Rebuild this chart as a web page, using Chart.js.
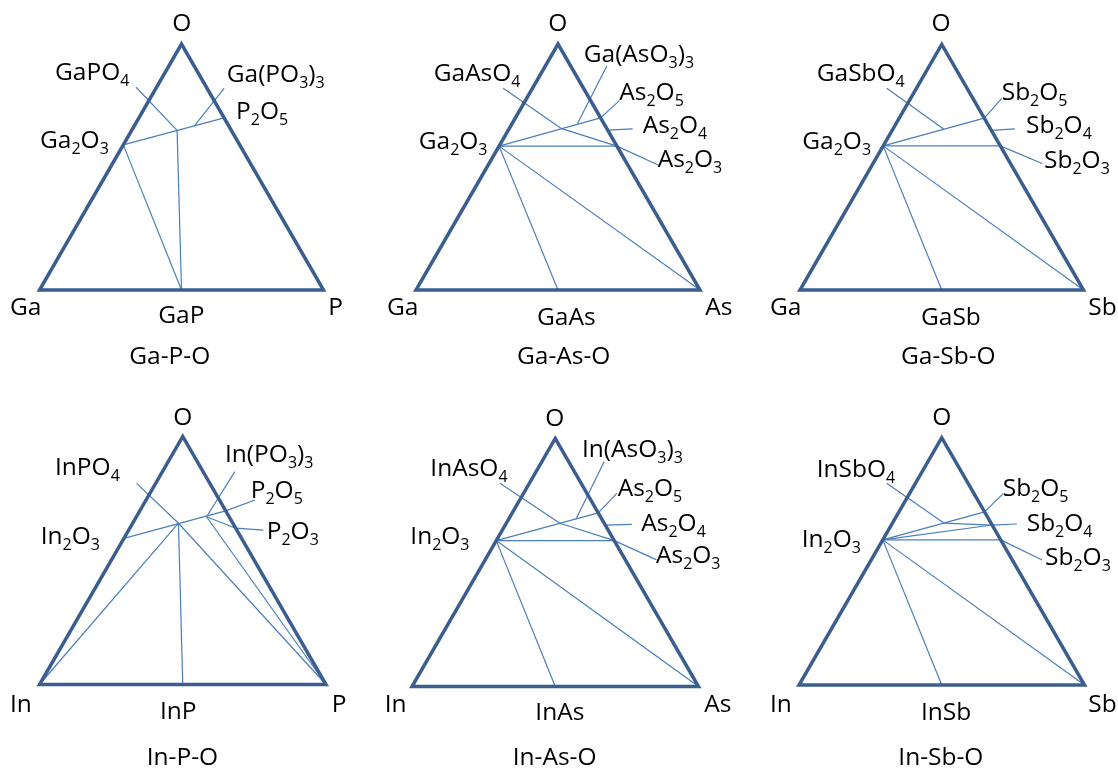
<!DOCTYPE html>
<html>
<head>
<meta charset="utf-8">
<title>Ternary phase diagrams: III–V–O systems</title>
<script src="https://cdn.jsdelivr.net/npm/chart.js@4.4.1/dist/chart.umd.min.js"></script>
<style>
  html, body { margin: 0; padding: 0; background: #ffffff; }
  #sheet { position: relative; width: 1118px; height: 769px; overflow: hidden; background: #ffffff; }
  .panel { position: absolute; }
</style>
</head>
<body>
<div id="sheet"></div>
<script>
// Phase compositions in atom fractions: anion = fraction of group-V element,
// oxygen = fraction of O; the metal fraction is whatever remains.

// ---- Ga–P–O ----
const gaPO_phases = ['Ga', 'P', 'O', 'Ga2O3', 'P2O5', 'GaP', 'GaPO4', 'Ga(PO3)3'];
const gaPO_anion  = [0, 1, 0, 0,    0.30, 0.50, 0.160, 0.212];
const gaPO_oxygen = [0, 0, 1, 0.59, 0.70, 0,    0.649, 0.668];
const gaPO_ties   = [['Ga2O3', 'P2O5'], ['Ga2O3', 'GaP'], ['GaP', 'GaPO4']];

// ---- Ga–As–O ----
const gaAsO_phases = ['Ga', 'As', 'O', 'Ga2O3', 'As2O5', 'As2O4', 'As2O3', 'GaAs', 'GaAsO4', 'Ga(AsO3)3'];
const gaAsO_anion  = [0, 1, 0, 0,     0.30, 0.35, 0.415, 0.50, 0.185, 0.230];
const gaAsO_oxygen = [0, 0, 1, 0.585, 0.70, 0.65, 0.585, 0,    0.656, 0.677];
const gaAsO_ties   = [['Ga2O3', 'As2O5'], ['Ga2O3', 'As2O3'], ['Ga2O3', 'As'], ['Ga2O3', 'GaAs'], ['GaAsO4', 'As2O3']];

// ---- Ga–Sb–O ----
const gaSbO_phases = ['Ga', 'Sb', 'O', 'Ga2O3', 'Sb2O5', 'Sb2O4', 'Sb2O3', 'GaSb', 'GaSbO4'];
const gaSbO_anion  = [0, 1, 0, 0,     0.30, 0.35, 0.413, 0.50, 0.180];
const gaSbO_oxygen = [0, 0, 1, 0.587, 0.70, 0.65, 0.587, 0,    0.655];
const gaSbO_ties   = [['Ga2O3', 'Sb2O5'], ['Ga2O3', 'Sb2O3'], ['Ga2O3', 'Sb'], ['Ga2O3', 'GaSb']];

// ---- In–P–O ----
const inPO_phases = ['In', 'P', 'O', 'In2O3', 'P2O5', 'P2O3', 'InP', 'InPO4', 'In(PO3)3'];
const inPO_anion  = [0, 1, 0, 0,     0.30, 0.37, 0.50, 0.160, 0.245];
const inPO_oxygen = [0, 0, 1, 0.589, 0.70, 0.63, 0,    0.650, 0.676];
const inPO_ties   = [['In2O3', 'P2O5'], ['InPO4', 'In'], ['InPO4', 'InP'], ['InPO4', 'P'],
                     ['In(PO3)3', 'P'], ['In(PO3)3', 'P2O3']];

// ---- In–As–O ----
const inAsO_phases = ['In', 'As', 'O', 'In2O3', 'As2O5', 'As2O4', 'As2O3', 'InAs', 'InAsO4', 'In(AsO3)3'];
const inAsO_anion  = [0, 1, 0, 0,     0.30, 0.35, 0.412, 0.50, 0.187, 0.235];
const inAsO_oxygen = [0, 0, 1, 0.588, 0.70, 0.65, 0.588, 0,    0.658, 0.676];
const inAsO_ties   = [['In2O3', 'As2O5'], ['In2O3', 'As2O3'], ['In2O3', 'As'], ['In2O3', 'InAs'], ['InAsO4', 'As2O3']];

// ---- In–Sb–O ----
const inSbO_phases = ['In', 'Sb', 'O', 'In2O3', 'Sb2O5', 'Sb2O4', 'Sb2O3', 'InSb', 'InSbO4'];
const inSbO_anion  = [0, 1, 0, 0,     0.30, 0.353, 0.413, 0.50, 0.180];
const inSbO_oxygen = [0, 0, 1, 0.587, 0.70, 0.647, 0.587, 0,    0.655];
const inSbO_ties   = [['In2O3', 'Sb2O5'], ['In2O3', 'Sb2O4'], ['In2O3', 'Sb2O3'], ['In2O3', 'Sb'],
                      ['In2O3', 'InSb'], ['InSbO4', 'Sb2O4']];

// Label leader lines: phase it points at, and where the leader ends (plot units, base = 1).
const gaPO_leaders  = [['GaPO4', 0.340, 0.714], ['Ga(PO3)3', 0.650, 0.710]];
const gaAsO_leaders = [['GaAsO4', 0.307, 0.710], ['Ga(AsO3)3', 0.672, 0.789], ['As2O5', 0.716, 0.667],
                       ['As2O4', 0.763, 0.567], ['As2O3', 0.853, 0.440]];
const gaSbO_leaders = [['GaSbO4', 0.306, 0.712], ['Sb2O5', 0.712, 0.676], ['Sb2O4', 0.758, 0.568],
                       ['Sb2O3', 0.854, 0.446]];
const inPO_leaders  = [['InPO4', 0.339, 0.702], ['In(PO3)3', 0.682, 0.743], ['P2O5', 0.752, 0.644],
                       ['P2O3', 0.781, 0.539]];
const inAsO_leaders = [['InAsO4', 0.307, 0.709], ['In(AsO3)3', 0.671, 0.785], ['As2O5', 0.715, 0.674],
                       ['As2O4', 0.767, 0.566], ['As2O3', 0.854, 0.442]];
const inSbO_leaders = [['InSbO4', 0.307, 0.707], ['Sb2O5', 0.716, 0.671], ['Sb2O4', 0.763, 0.564],
                       ['Sb2O3', 0.852, 0.438]];

// Text placement inside each panel: [text, x, baseline, align]. Digits print as subscripts.
const gaPO_text = [
  ['O', 181.7, 30.5, 'center'], ['GaPO4', 55, 80, 'left'], ['Ga(PO3)3', 226.7, 81.7, 'left'],
  ['P2O5', 236, 119.3, 'left'], ['Ga2O3', 40, 148.3, 'left'], ['Ga', 10, 315, 'left'],
  ['GaP', 158.3, 322.7, 'left'], ['P', 328.3, 315, 'left'], ['Ga-P-O', 129.3, 364, 'left']
];
const gaAsO_text = [
  ['O', 185.7, 30.7, 'center'], ['Ga(AsO3)3', 211.7, 61.7, 'left'], ['GaAsO4', 61.7, 81, 'left'],
  ['As2O5', 247.3, 100, 'left'], ['As2O4', 270.7, 133.3, 'left'], ['Ga2O3', 46.7, 149, 'left'],
  ['As2O3', 285.7, 166.7, 'left'], ['Ga', 15, 315, 'left'], ['GaAs', 165, 325, 'left'],
  ['As', 333.3, 315, 'left'], ['Ga-As-O', 145, 364, 'left']
];
const gaSbO_text = [
  ['O', 196, 30.7, 'center'], ['GaSbO4', 71.7, 81, 'left'], ['Sb2O5', 256.7, 100, 'left'],
  ['Sb2O4', 281, 133.3, 'left'], ['Ga2O3', 57.3, 149, 'left'], ['Sb2O3', 299, 168.3, 'left'],
  ['Ga', 25, 315, 'left'], ['GaSb', 176, 325, 'left'], ['Sb', 343.3, 315, 'left'],
  ['Ga-Sb-O', 156, 364, 'left']
];
const inPO_text = [
  ['O', 182.7, 39.5, 'center'], ['InPO4', 55, 90, 'left'], ['In(PO3)3', 225, 76.7, 'left'],
  ['P2O5', 250.7, 113.3, 'left'], ['In2O3', 40.7, 159.3, 'left'], ['P2O3', 266.7, 154, 'left'],
  ['In', 10, 326.7, 'left'], ['InP', 160, 334, 'left'], ['P', 331.7, 326.7, 'left'],
  ['In-P-O', 146.7, 380, 'left']
];
const inAsO_text = [
  ['O', 182.7, 40.7, 'center'], ['In(AsO3)3', 210, 71.7, 'left'], ['InAsO4', 58.3, 91, 'left'],
  ['As2O5', 245.7, 111, 'left'], ['As2O4', 269.3, 145.7, 'left'], ['In2O3', 38.3, 159.3, 'left'],
  ['As2O3', 284, 178.3, 'left'], ['In', 12.7, 326.7, 'left'], ['InAs', 163.3, 335, 'left'],
  ['As', 332.3, 326.7, 'left'], ['In-As-O', 140.7, 380, 'left']
];
const inSbO_text = [
  ['O', 196.7, 40, 'center'], ['InSbO4', 71.7, 91.7, 'left'], ['Sb2O5', 257.7, 110.7, 'left'],
  ['Sb2O4', 281.7, 145.7, 'left'], ['In2O3', 56.7, 162, 'left'], ['Sb2O3', 300, 180, 'left'],
  ['In', 25, 326.7, 'left'], ['InSb', 176, 335, 'left'], ['Sb', 343.3, 326.7, 'left'],
  ['In-Sb-O', 153.3, 380, 'left']
];

// Panel boxes on the sheet and the triangle frame inside each one
// (baseLeft / baseY: left end of the base line, side: base length in px).
const panels = [
  { phases: gaPO_phases,  anion: gaPO_anion,  oxygen: gaPO_oxygen,  ties: gaPO_ties,  leaders: gaPO_leaders,  text: gaPO_text,
    left: 0,   top: 0,   width: 372, height: 385, baseLeft: 39.5, baseY: 290,   side: 284 },
  { phases: gaAsO_phases, anion: gaAsO_anion, oxygen: gaAsO_oxygen, ties: gaAsO_ties, leaders: gaAsO_leaders, text: gaAsO_text,
    left: 372, top: 0,   width: 373, height: 385, baseLeft: 44,   baseY: 290,   side: 284 },
  { phases: gaSbO_phases, anion: gaSbO_anion, oxygen: gaSbO_oxygen, ties: gaSbO_ties, leaders: gaSbO_leaders, text: gaSbO_text,
    left: 745, top: 0,   width: 373, height: 385, baseLeft: 55,   baseY: 290,   side: 283.5 },
  { phases: inPO_phases,  anion: inPO_anion,  oxygen: inPO_oxygen,  ties: inPO_ties,  leaders: inPO_leaders,  text: inPO_text,
    left: 0,   top: 385, width: 372, height: 384, baseLeft: 39.5, baseY: 299.5, side: 286.5 },
  { phases: inAsO_phases, anion: inAsO_anion, oxygen: inAsO_oxygen, ties: inAsO_ties, leaders: inAsO_leaders, text: inAsO_text,
    left: 372, top: 385, width: 373, height: 384, baseLeft: 40,   baseY: 301.5, side: 286.5 },
  { phases: inSbO_phases, anion: inSbO_anion, oxygen: inSbO_oxygen, ties: inSbO_ties, leaders: inSbO_leaders, text: inSbO_text,
    left: 745, top: 385, width: 373, height: 384, baseLeft: 54,   baseY: 300,   side: 285.5 }
];

const FRAME_COLOR = '#3B5E8E';
const TIE_COLOR = '#4A7EBB';
const FRAME_WIDTH = 3.5;
const TIE_WIDTH = 1.2;
const MAIN_FONT = '24.5px "Open Sans"';
const SUB_FONT = '16px "Open Sans"';
const SUB_DROP = 6;

const H = Math.sqrt(3) / 2;
// composition -> plot coordinates (metal at origin, anion at (1,0), O at apex)
function toPlot(anion, oxygen) {
  return { x: anion + oxygen / 2, y: oxygen * H };
}

function splitFormula(text) {
  const parts = [];
  for (const ch of text) {
    const sub = /[0-9]/.test(ch);
    const last = parts[parts.length - 1];
    if (last && last.sub === sub) last.t += ch; else parts.push({ t: ch, sub });
  }
  return parts;
}

function makeLabelPlugin(items) {
  return {
    id: 'phaseLabels',
    afterDatasetsDraw(chart) {
      const ctx = chart.ctx;
      ctx.save();
      ctx.fillStyle = '#000000';
      ctx.textBaseline = 'alphabetic';
      ctx.textAlign = 'left';
      for (const [text, x, y, align] of items) {
        const parts = splitFormula(text);
        let total = 0;
        for (const p of parts) {
          ctx.font = p.sub ? SUB_FONT : MAIN_FONT;
          p.w = ctx.measureText(p.t).width;
          total += p.w;
        }
        let cx = align === 'center' ? x - total / 2 : x;
        for (const p of parts) {
          ctx.font = p.sub ? SUB_FONT : MAIN_FONT;
          ctx.fillText(p.t, cx, y + (p.sub ? SUB_DROP : 0));
          cx += p.w;
        }
      }
      ctx.restore();
    }
  };
}

function lineSet(points, color, width) {
  return {
    data: points,
    showLine: true,
    borderColor: color,
    borderWidth: width,
    pointRadius: 0,
    pointHoverRadius: 0,
    tension: 0,
    fill: false,
    borderJoinStyle: 'miter',
    borderCapStyle: 'butt',
    clip: false
  };
}

const sheet = document.getElementById('sheet');

panels.forEach(p => {
  const at = name => {
    const i = p.phases.indexOf(name);
    return toPlot(p.anion[i], p.oxygen[i]);
  };
  const datasets = [];

  // triangle frame, started mid-base so all three corners are joined
  const metal = at(p.phases[0]), anionV = at(p.phases[1]), oxy = at(p.phases[2]);
  const mid = { x: (metal.x + anionV.x) / 2, y: metal.y };
  datasets.push(lineSet([mid, anionV, oxy, metal, mid], FRAME_COLOR, FRAME_WIDTH));

  // tie lines between coexisting phases
  p.ties.forEach(([a, b]) => datasets.push(lineSet([at(a), at(b)], TIE_COLOR, TIE_WIDTH)));

  // label leaders
  p.leaders.forEach(([name, lx, ly]) => datasets.push(lineSet([at(name), { x: lx, y: ly }], TIE_COLOR, TIE_WIDTH)));

  const box = document.createElement('div');
  box.className = 'panel';
  box.style.left = p.left + 'px';
  box.style.top = p.top + 'px';
  box.style.width = p.width + 'px';
  box.style.height = p.height + 'px';
  const canvas = document.createElement('canvas');
  canvas.width = p.width;
  canvas.height = p.height;
  canvas.style.width = p.width + 'px';
  canvas.style.height = p.height + 'px';
  box.appendChild(canvas);
  sheet.appendChild(box);

  new Chart(canvas, {
    type: 'scatter',
    data: { datasets },
    options: {
      responsive: false,
      maintainAspectRatio: false,
      animation: false,
      events: [],
      layout: { padding: 0 },
      plugins: { legend: { display: false }, tooltip: { enabled: false }, title: { display: false } },
      scales: {
        x: { type: 'linear', display: false,
             min: -p.baseLeft / p.side, max: (p.width - p.baseLeft) / p.side },
        y: { type: 'linear', display: false,
             min: (p.baseY - p.height) / p.side, max: p.baseY / p.side }
      }
    },
    plugins: [makeLabelPlugin(p.text)]
  });
});
</script>
</body>
</html>
